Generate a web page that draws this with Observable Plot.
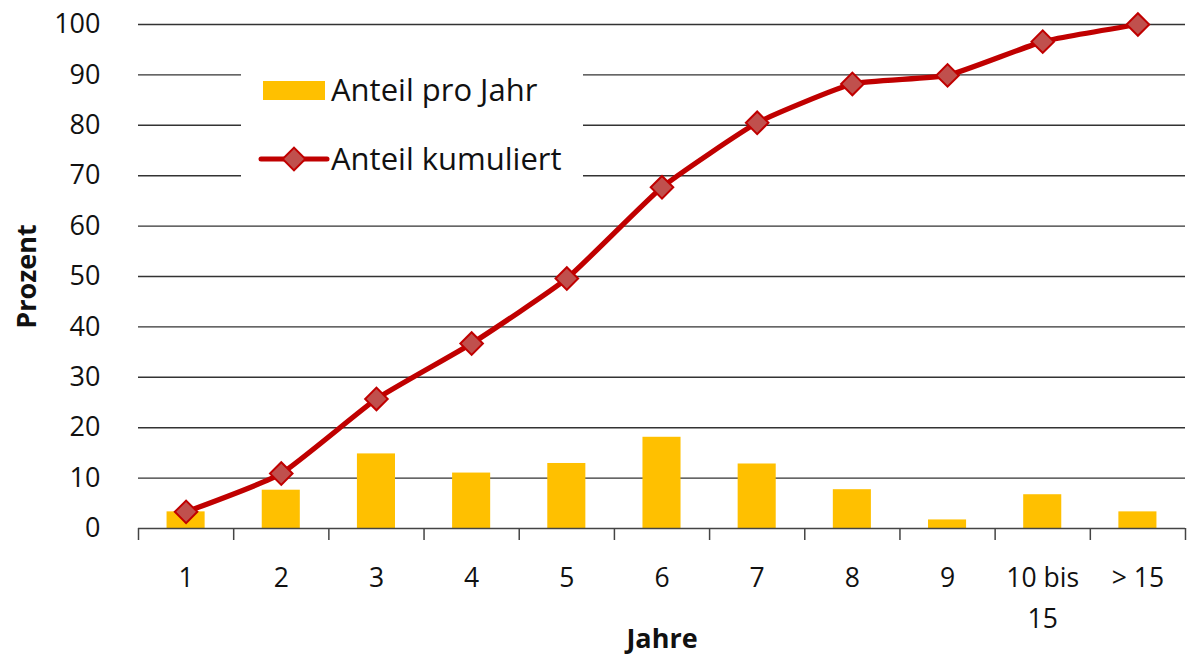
<!DOCTYPE html>
<html>
<head>
<meta charset="utf-8">
<script src="https://cdn.jsdelivr.net/npm/d3@7"></script>
<script src="https://cdn.jsdelivr.net/npm/@observablehq/plot@0.6"></script>
<style>
  html, body { margin: 0; padding: 0; background: #fff; }
  #wrap { position: relative; width: 1187px; height: 660px; font-family: "Open Sans", sans-serif; }
  #legend { position: absolute; left: 241px; top: 60px; width: 342px; height: 130px; background: #fff; }
  .lg-item { position: absolute; left: 0; height: 40px; width: 342px; }
  .lg-item svg { position: absolute; left: 0; top: 0; }
  .lg-item span { position: absolute; left: 90px; top: 50%; transform: translateY(-52%); font-size: 31px; color: #111; white-space: nowrap; }
</style>
</head>
<body>
<div id="wrap">
  <div id="chart"></div>
  <div id="legend"></div>
</div>
<script>
const categories = ["1", "2", "3", "4", "5", "6", "7", "8", "9", "10 bis\n15", "> 15"];
const anteilProJahr = [3.3, 7.6, 14.8, 11.0, 12.9, 18.1, 12.8, 7.7, 1.7, 6.7, 3.3];
const anteilKumuliert = [3.3, 10.9, 25.7, 36.7, 49.6, 67.7, 80.5, 88.2, 89.9, 96.6, 100];
const yTicks = [0, 10, 20, 30, 40, 50, 60, 70, 80, 90, 100];
const seriesNames = ["Anteil pro Jahr", "Anteil kumuliert"];

const barColor = "#FFC000";
const lineColor = "#C00000";
const markerFill = "#C0504D";

const table = categories.map((c, i) => ({
  cat: c, i, jahr: anteilProJahr[i], kum: anteilKumuliert[i]
}));
const boundaries = d3.range(categories.length + 1);

const chart = Plot.plot({
  width: 1187,
  height: 660,
  marginLeft: 138,
  marginRight: 2,
  marginTop: 24,
  marginBottom: 132,
  style: { fontFamily: "Open Sans", color: "#111", background: "#fff" },
  x: { type: "linear", domain: [0, categories.length], axis: null },
  y: { type: "linear", domain: [0, 100], axis: null },
  marks: [
    Plot.ruleY(yTicks.slice(1), { stroke: "#333", strokeWidth: 1.4 }),
    Plot.rectY(table, { x1: d => d.i + 0.3, x2: d => d.i + 0.7, y: "jahr", fill: barColor }),
    Plot.ruleY([0], { stroke: "#444", strokeWidth: 1.5 }),
    Plot.axisX({ ticks: boundaries, tickSize: 12, tickFormat: () => "", stroke: "#444", strokeWidth: 1.5, label: null }),
    Plot.axisY({ ticks: yTicks, tickSize: 0, tickPadding: 38, fontSize: 27, label: null }),
    Plot.text(table, {
      x: d => d.i + 0.5, y: 0, text: "cat", lineAnchor: "top", dy: 30,
      fontSize: 26.5, lineHeight: 1.54, fill: "#111"
    }),
    Plot.line(table, {
      x: d => d.i + 0.5, y: "kum", stroke: lineColor, strokeWidth: 5.2,
      curve: "cardinal", tension: 0.55, strokeLinejoin: "round"
    }),
    Plot.dot(table, {
      x: d => d.i + 0.5, y: "kum", symbol: "square", r: 9, rotate: 45,
      fill: markerFill, stroke: lineColor, strokeWidth: 2
    }),
    Plot.text(["Prozent"], { frameAnchor: "left", textAnchor: "middle", rotate: -90, dx: -111, fontSize: 27, fontWeight: "bold", fill: "#111" }),
    Plot.text(["Jahre"], { frameAnchor: "bottom", dy: 119, fontSize: 27, fontWeight: "bold", fill: "#111" })
  ]
});
document.getElementById("chart").append(chart);

// legend
const legend = document.getElementById("legend");
const item1 = document.createElement("div");
item1.className = "lg-item";
item1.style.top = "10px";
item1.innerHTML = `<svg width="90" height="40"><rect x="22" y="11" width="62" height="19" fill="${barColor}"/></svg><span>${seriesNames[0]}</span>`;
const item2 = document.createElement("div");
item2.className = "lg-item";
item2.style.top = "79px";
item2.innerHTML = `<svg width="90" height="40"><line x1="20" x2="86" y1="20" y2="20" stroke="${lineColor}" stroke-width="5" stroke-linecap="round"/><rect x="45" y="12" width="16" height="16" fill="${markerFill}" stroke="${lineColor}" stroke-width="2" transform="rotate(45 53 20)"/></svg><span>${seriesNames[1]}</span>`;
legend.append(item1, item2);
</script>
</body>
</html>
